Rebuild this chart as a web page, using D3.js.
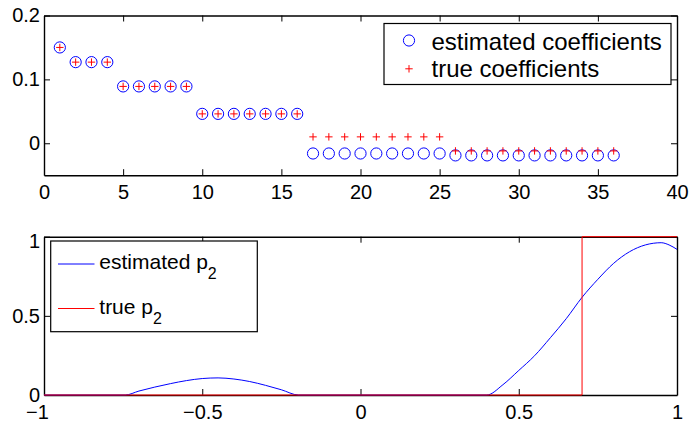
<!DOCTYPE html>
<html>
<head>
<meta charset="utf-8">
<script src="https://cdn.jsdelivr.net/npm/d3@7"></script>
<style>
  html, body { margin: 0; padding: 0; background: #fff; }
  svg { display: block; }
  text { font-family: "Liberation Sans", Arial, Helvetica, sans-serif; fill: #000; }
</style>
</head>
<body>
<svg id="chart" width="691" height="421"></svg>
<script>
// ---- data ----
const coefIndex = [1,2,3,4,5,6,7,8,9,10,11,12,13,14,15,16,17,18,19,20,21,22,23,24,25,26,27,28,29,30,31,32,33,34,35,36];
const estimatedCoef = [0.150,0.127,0.127,0.127,0.089,0.089,0.089,0.089,0.089,
  0.046,0.046,0.046,0.046,0.046,0.046,0.046,
  -0.016,-0.016,-0.016,-0.016,-0.016,-0.016,-0.016,-0.016,-0.016,
  -0.019,-0.019,-0.019,-0.019,-0.019,-0.019,-0.019,-0.019,-0.019,-0.019,-0.019];
const trueCoef = [0.150,0.127,0.127,0.127,0.089,0.089,0.089,0.089,0.089,
  0.046,0.046,0.046,0.046,0.046,0.046,0.046,
  0.010,0.010,0.010,0.010,0.010,0.010,0.010,0.010,0.010,
  -0.012,-0.012,-0.012,-0.012,-0.012,-0.012,-0.012,-0.012,-0.012,-0.012,-0.012];

const estP2X = [-1,-0.743,-0.7,-0.65,-0.6,-0.55,-0.5,-0.45,-0.4,-0.35,-0.3,-0.25,-0.196,
  0.399,0.45,0.5,0.55,0.6,0.65,0.7,0.75,0.8,0.85,0.9,0.95,0.975,1];
const estP2Y = [0,0,0.025,0.050,0.072,0.091,0.104,0.108,0.101,0.085,0.061,0.033,0,
  0,0.065,0.155,0.248,0.362,0.482,0.617,0.731,0.832,0.905,0.948,0.962,0.948,0.920];
const trueP2X = [-1,0.7,0.7,1];
const trueP2Y = [0,0,1,1];

const topXTicks = [0,5,10,15,20,25,30,35,40];
const topXLabels = ["0","5","10","15","20","25","30","35","40"];
const topYTicks = [0,0.1,0.2];
const topYLabels = ["0","0.1","0.2"];
const botXTicks = [-1,-0.5,0,0.5,1];
const botXLabels = ["\u22121","\u22120.5","0","0.5","1"];
const botYTicks = [0,0.5,1];
const botYLabels = ["0","0.5","1"];

const legendTop = ["estimated coefficients","true coefficients"];
const legendBot = ["estimated p","true p"];

// ---- drawing ----
const svg = d3.select("#chart");
const BLUE = "#0000ff", RED = "#ff0000";
const L = 44, R = 677;

function frame(g, x, y, xt, xl, yt, yl, x0, x1, y0, y1, pad) {
  const fmt = (ticks, labels) => d => labels[ticks.indexOf(d)];
  const gx = g.append("g").attr("transform", `translate(0,${y0})`)
    .call(d3.axisBottom(x).tickValues(xt).tickFormat(fmt(xt, xl)).tickSize(-6).tickSizeOuter(0).tickPadding(pad));
  g.append("g").attr("transform", `translate(0,${y1})`)
    .call(d3.axisTop(x).tickValues(xt).tickFormat("").tickSize(-6).tickSizeOuter(0));
  const gy = g.append("g").attr("transform", `translate(${x0},0)`)
    .call(d3.axisLeft(y).tickValues(yt).tickFormat(fmt(yt, yl)).tickSize(-6).tickSizeOuter(0).tickPadding(4));
  g.append("g").attr("transform", `translate(${x1},0)`)
    .call(d3.axisRight(y).tickValues(yt).tickFormat("").tickSize(-6).tickSizeOuter(0));
  g.selectAll(".domain").attr("stroke", "#000").attr("stroke-width", 1.4);
  g.selectAll(".tick line").attr("stroke", "#000").attr("stroke-width", 1);
  g.selectAll(".tick text").attr("font-size", 20).attr("font-family", "Liberation Sans, Arial, sans-serif").attr("fill", "#000");
  return { gx, gy };
}

// Top plot
const xTop = d3.scaleLinear().domain([0, 40]).range([L, R]);
const yTop = d3.scaleLinear().domain([-0.05, 0.2]).range([175.2, 15.5]);
const gTop = svg.append("g");
frame(gTop, xTop, yTop, topXTicks, topXLabels, topYTicks, topYLabels, L, R, 175.2, 15.5, 10);

gTop.append("g").selectAll("circle").data(coefIndex).join("circle")
  .attr("cx", (d) => xTop(d)).attr("cy", (d, i) => yTop(estimatedCoef[i]))
  .attr("r", 5.6).attr("fill", "none").attr("stroke", BLUE).attr("stroke-width", 1);
const plus = (cx, cy, s) => `M${cx - s},${cy}H${cx + s}M${cx},${cy - s}V${cy + s}`;
gTop.append("g").selectAll("path").data(coefIndex).join("path")
  .attr("d", (d, i) => plus(xTop(d), yTop(trueCoef[i]), 3.7))
  .attr("fill", "none").attr("stroke", RED).attr("stroke-width", 1);

// Top legend
const lg1 = gTop.append("g");
lg1.append("rect").attr("x", 384).attr("y", 23.5).attr("width", 287).attr("height", 61)
  .attr("fill", "#fff").attr("stroke", "#000").attr("stroke-width", 1.2);
lg1.append("circle").attr("cx", 409).attr("cy", 40.5).attr("r", 5.6)
  .attr("fill", "none").attr("stroke", BLUE).attr("stroke-width", 1);
lg1.append("path").attr("d", plus(409, 68.8, 3.7)).attr("stroke", RED).attr("stroke-width", 1);
lg1.append("text").attr("x", 431.5).attr("y", 50).attr("font-size", 24).text(legendTop[0]);
lg1.append("text").attr("x", 431.5).attr("y", 77).attr("font-size", 24).text(legendTop[1]);

// Bottom plot
const xBot = d3.scaleLinear().domain([-1, 1]).range([L, R]);
const yBot = d3.scaleLinear().domain([0, 1]).range([395, 236.7]);
const gBot = svg.append("g");
const fb = frame(gBot, xBot, yBot, botXTicks, botXLabels, botYTicks, botYLabels, L, R, 395, 236.7, 9.5);
// label nudges seen in the reference
fb.gx.selectAll(".tick text").filter(d => d === -1).attr("dx", -7);
fb.gy.selectAll(".tick text").filter(d => d === 1).attr("dy", "0.52em");

const estPts = estP2X.map((x, i) => [x, estP2Y[i]]);
const truePts = trueP2X.map((x, i) => [x, trueP2Y[i]]);
gBot.append("path").datum(estPts)
  .attr("d", d3.line().x(d => xBot(d[0])).y(d => yBot(d[1])).curve(d3.curveMonotoneX))
  .attr("fill", "none").attr("stroke", BLUE).attr("stroke-width", 1);
gBot.append("path").datum(truePts)
  .attr("d", d3.line().x(d => xBot(d[0])).y(d => yBot(d[1])))
  .attr("fill", "none").attr("stroke", RED).attr("stroke-width", 1);

// Bottom legend
const lg2 = gBot.append("g");
lg2.append("rect").attr("x", 50.7).attr("y", 241).attr("width", 206.6).attr("height", 90.7)
  .attr("fill", "#fff").attr("stroke", "#000").attr("stroke-width", 1.2);
lg2.append("line").attr("x1", 58).attr("x2", 94.5).attr("y1", 264).attr("y2", 264)
  .attr("stroke", BLUE).attr("stroke-width", 1);
lg2.append("line").attr("x1", 58).attr("x2", 94.5).attr("y1", 308.5).attr("y2", 308.5)
  .attr("stroke", RED).attr("stroke-width", 1);
const t1 = lg2.append("text").attr("x", 99.3).attr("y", 268.5).attr("font-size", 21);
t1.append("tspan").text(legendBot[0]);
t1.append("tspan").attr("dy", 10.5).attr("font-size", 16).text("2");
const t2 = lg2.append("text").attr("x", 99.3).attr("y", 313.5).attr("font-size", 21);
t2.append("tspan").text(legendBot[1]);
t2.append("tspan").attr("dy", 10).attr("font-size", 16).text("2");
</script>
</body>
</html>
